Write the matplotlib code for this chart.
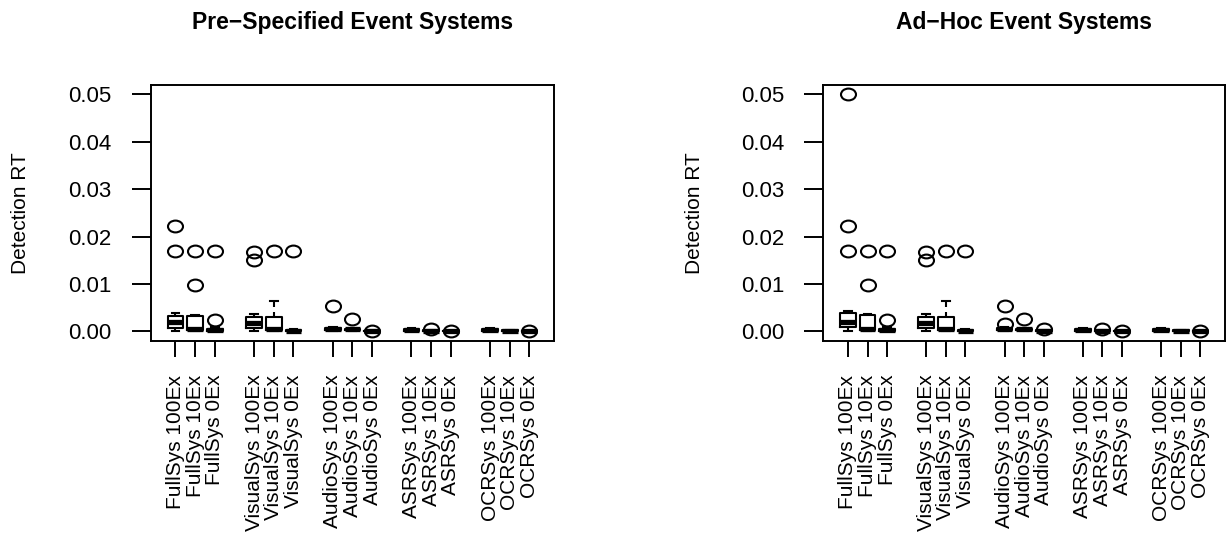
import matplotlib
matplotlib.use("Agg")
import matplotlib.pyplot as plt
from matplotlib.path import Path

plt.rcParams['font.family'] = ['Liberation Sans', 'DejaVu Sans']

# Systems, grouped in fives of three exemplar conditions
labels = ["FullSys 100Ex", "FullSys 10Ex", "FullSys 0Ex",
          "VisualSys 100Ex", "VisualSys 10Ex", "VisualSys 0Ex",
          "AudioSys 100Ex", "AudioSys 10Ex", "AudioSys 0Ex",
          "ASRSys 100Ex", "ASRSys 10Ex", "ASRSys 0Ex",
          "OCRSys 100Ex", "OCRSys 10Ex", "OCRSys 0Ex"]
positions = [1, 2, 3, 5, 6, 7, 9, 10, 11, 13, 14, 15, 17, 18, 19]

y_ticks = [0.00, 0.01, 0.02, 0.03, 0.04, 0.05]
y_tick_labels = ["0.00", "0.01", "0.02", "0.03", "0.04", "0.05"]

# Pre-specified event systems: five-number summaries and outliers
pre_whislo = [0.0001, 0.0000, 0.0000, 0.0001, 0.0000, 0.0000, 0.0001, 0.0001, 0.0000,
              0.0000, 0.0000, 0.0000, 0.0000, 0.0000, 0.0000]
pre_q1 = [0.0007, 0.0002, 0.0001, 0.0006, 0.0002, 0.0001, 0.0003, 0.0002, 0.0000,
          0.0001, 0.0001, 0.0000, 0.0001, 0.0001, 0.0000]
pre_med = [0.0019, 0.0004, 0.0003, 0.0017, 0.0004, 0.0001, 0.0005, 0.0004, 0.0001,
           0.0002, 0.0001, 0.0000, 0.0002, 0.0001, 0.0000]
pre_q3 = [0.0033, 0.0033, 0.0005, 0.0031, 0.0031, 0.0002, 0.0007, 0.0005, 0.0001,
          0.0004, 0.0002, 0.0001, 0.0004, 0.0002, 0.0001]
pre_whishi = [0.0039, 0.0035, 0.0008, 0.0037, 0.0063, 0.0004, 0.0009, 0.0007, 0.0002,
              0.0006, 0.0003, 0.0001, 0.0006, 0.0003, 0.0001]
pre_fliers = [[0.0222, 0.0169], [0.0169, 0.0097], [0.0169, 0.0024],
              [0.0167, 0.0151], [0.0169], [0.0169],
              [0.0053], [0.0025], [0.0000],
              [], [0.0004], [0.0000],
              [], [], [0.0000]]

# Ad-hoc event systems: five-number summaries and outliers
adhoc_whislo = [0.0001, 0.0000, 0.0000, 0.0001, 0.0000, 0.0000, 0.0001, 0.0001, 0.0000,
                0.0000, 0.0000, 0.0000, 0.0000, 0.0000, 0.0000]
adhoc_q1 = [0.0008, 0.0002, 0.0001, 0.0006, 0.0002, 0.0001, 0.0003, 0.0002, 0.0001,
            0.0001, 0.0001, 0.0000, 0.0001, 0.0001, 0.0000]
adhoc_med = [0.0020, 0.0004, 0.0003, 0.0018, 0.0004, 0.0001, 0.0005, 0.0004, 0.0001,
             0.0002, 0.0001, 0.0000, 0.0002, 0.0001, 0.0000]
adhoc_q3 = [0.0039, 0.0034, 0.0005, 0.0031, 0.0031, 0.0002, 0.0007, 0.0005, 0.0002,
            0.0004, 0.0002, 0.0001, 0.0004, 0.0002, 0.0001]
adhoc_whishi = [0.0042, 0.0036, 0.0008, 0.0037, 0.0063, 0.0004, 0.0009, 0.0007, 0.0003,
                0.0006, 0.0003, 0.0001, 0.0006, 0.0003, 0.0001]
adhoc_fliers = [[0.0502, 0.0222, 0.0169], [0.0169, 0.0097], [0.0169, 0.0024],
                [0.0167, 0.0151], [0.0169], [0.0169],
                [0.0053, 0.0016], [0.0025], [0.0004],
                [], [0.0004], [0.0000],
                [], [], [0.0000]]

# Open outlier symbol, slightly wider than tall
_circle = Path.unit_circle()
ellipse_marker = Path(_circle.vertices * [1.27, 1.0], _circle.codes)

fig = plt.figure(figsize=(12.26, 5.33), dpi=100)
ax_pre = fig.add_axes([0.1229, 0.3608, 0.3292, 0.4797])
ax_adhoc = fig.add_axes([0.6715, 0.3608, 0.3277, 0.4797])


def draw_panel(ax, title, whislo, q1, med, q3, whishi, fliers):
    stats = [dict(label=lab, whislo=a, q1=b, med=c, q3=d, whishi=e, fliers=f)
             for lab, a, b, c, d, e, f in zip(labels, whislo, q1, med, q3, whishi, fliers)]
    ax.bxp(stats, positions=positions, widths=0.8, capwidths=0.4, showfliers=True,
           boxprops=dict(color='black', linewidth=1.5),
           whiskerprops=dict(color='black', linewidth=1.5, linestyle=(0, (2.4, 2.4))),
           capprops=dict(color='black', linewidth=1.5),
           medianprops=dict(color='black', linewidth=3.8, solid_capstyle='butt'),
           flierprops=dict(marker=ellipse_marker, markersize=10.8, markerfacecolor='none',
                           markeredgecolor='black', markeredgewidth=1.5, linestyle='none'))
    ax.set_xlim(-0.26, 20.26)
    ax.set_ylim(-0.002, 0.052)
    ax.set_xticks(positions)
    ax.set_xticklabels(labels, rotation=90, fontsize=15)
    ax.set_yticks(y_ticks)
    ax.set_yticklabels(y_tick_labels, fontsize=16)
    ax.tick_params(axis='x', length=11.5, width=1.4, pad=13)
    ax.tick_params(axis='y', length=13.7, width=1.4, pad=14.4)
    for sp in ax.spines.values():
        sp.set_linewidth(1.4)
    ax.set_ylabel("Detection RT", fontsize=15)
    ax.yaxis.set_label_coords(-0.3215, 0.5)
    ax.yaxis.label.set_verticalalignment('center')
    ax.set_title(title, fontweight='bold', fontsize=16.5, pad=40)


draw_panel(ax_pre, "Pre\u2212Specified Event Systems",
           pre_whislo, pre_q1, pre_med, pre_q3, pre_whishi, pre_fliers)
draw_panel(ax_adhoc, "Ad\u2212Hoc Event Systems",
           adhoc_whislo, adhoc_q1, adhoc_med, adhoc_q3, adhoc_whishi, adhoc_fliers)

fig.savefig("out.png", dpi=100, facecolor='white')
